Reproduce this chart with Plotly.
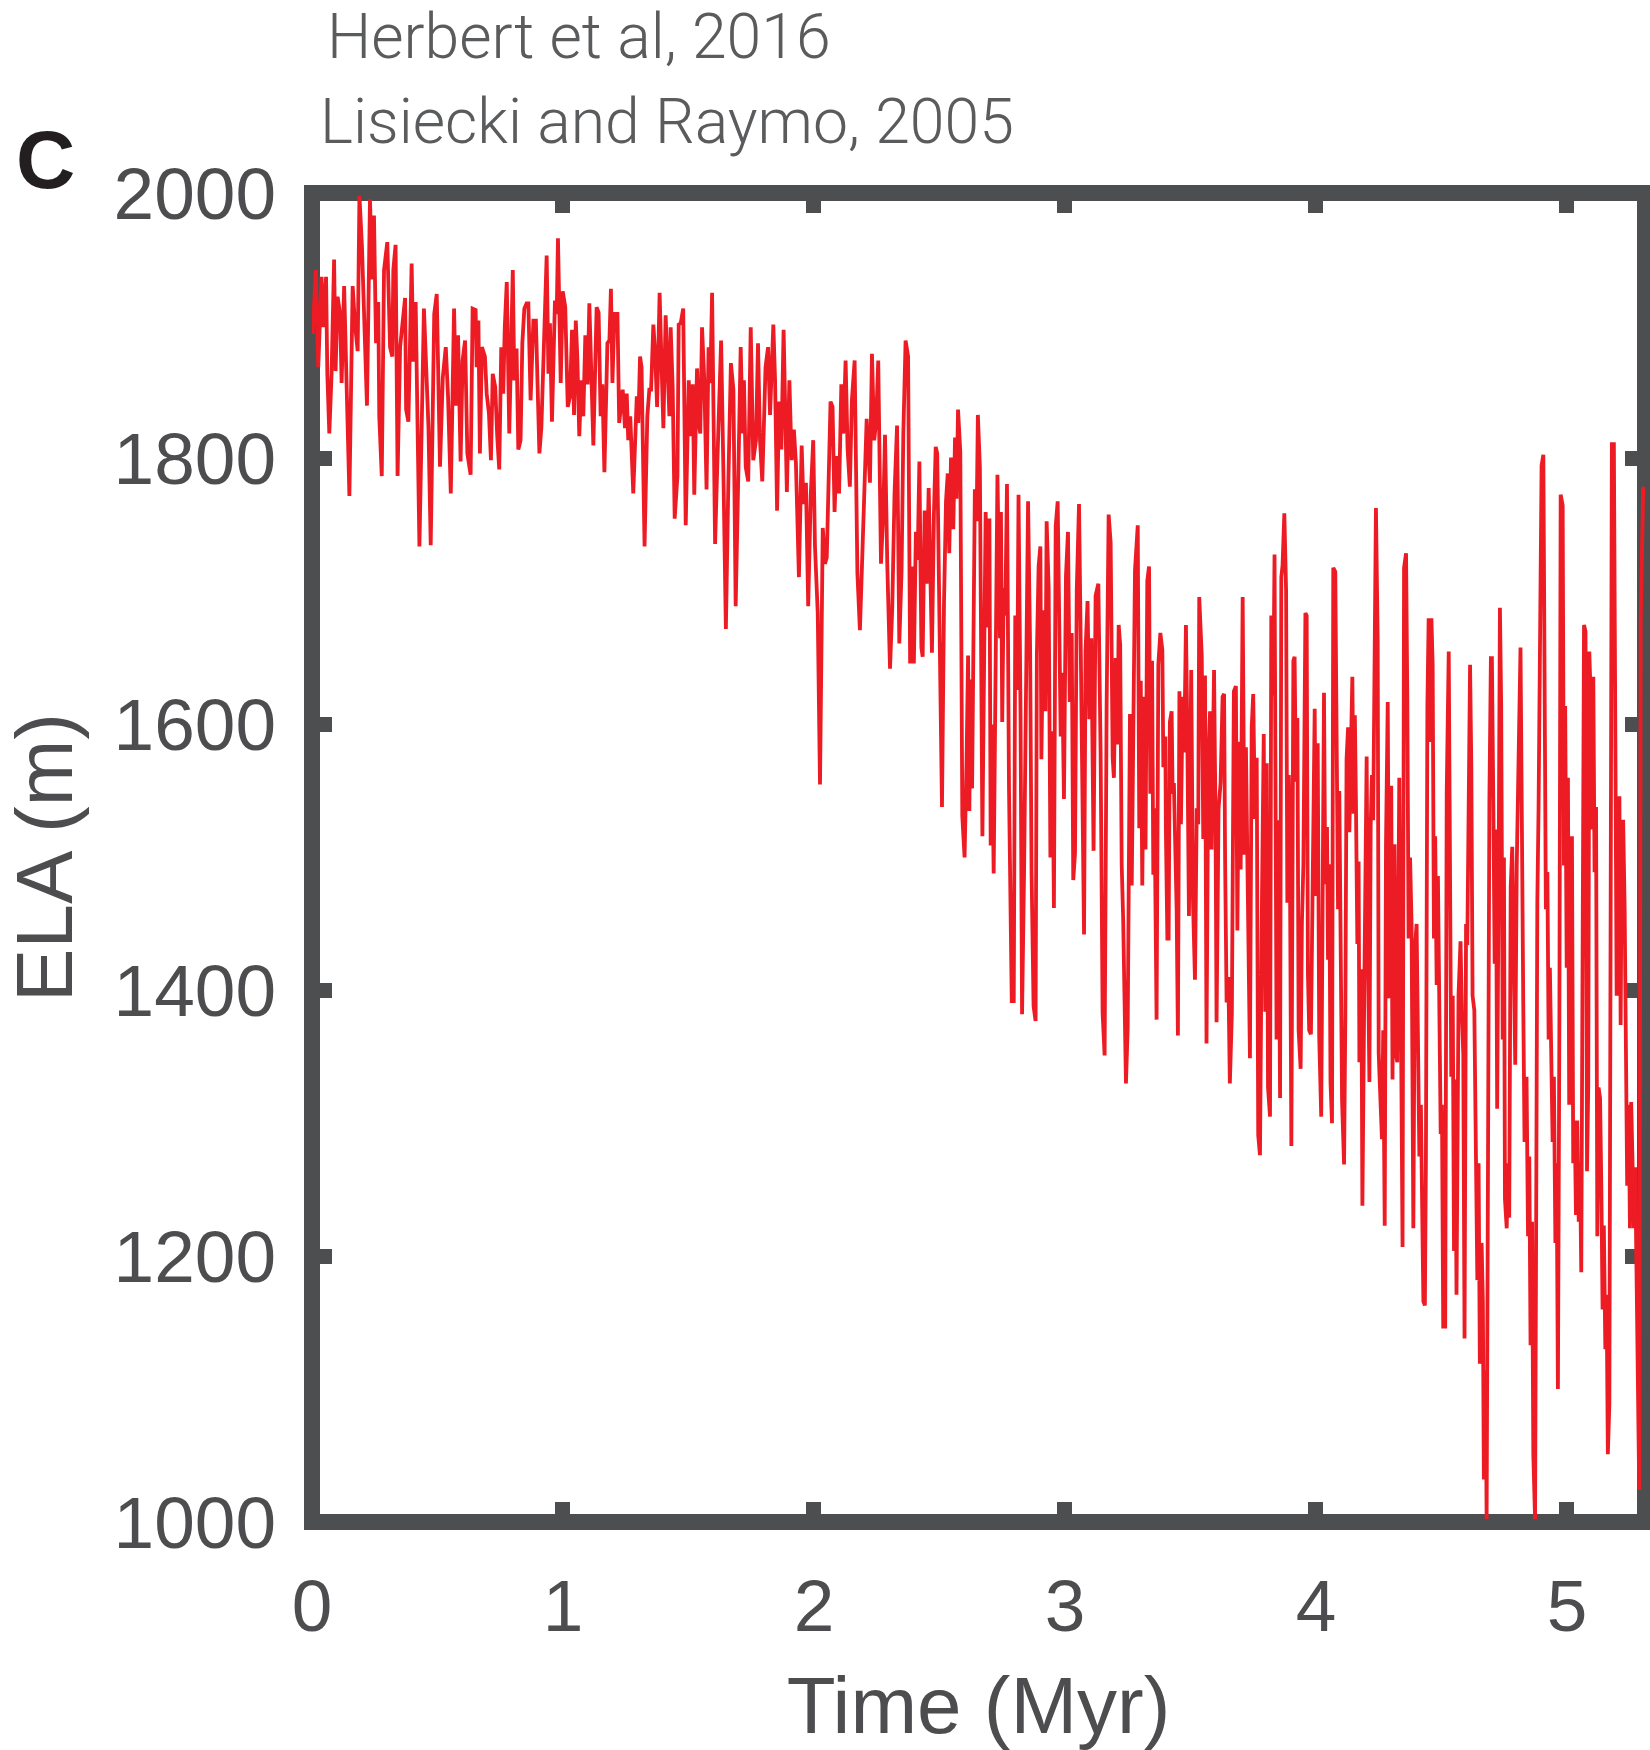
import plotly.graph_objects as go

# ---- data: (time in Myr, ELA in m), segment by segment ----
seg_a = [(0.003,1894),(0.015,1942),(0.025,1869),(0.038,1937),(0.045,1899),(0.056,1937),(0.061,1864),(0.069,1819),
         (0.078,1864),(0.088,1950),(0.094,1866),(0.102,1922),(0.112,1909),(0.118,1857),(0.128,1930),(0.138,1849),
         (0.149,1772),(0.162,1930),(0.171,1902),(0.182,1881),(0.189,1998),(0.199,1960),(0.211,1892),(0.219,1840),
         (0.231,1995),(0.240,1935),(0.247,1983),(0.255,1887),(0.264,1918),(0.268,1832),(0.278,1787),(0.287,1942),
         (0.300,1963),(0.311,1884),(0.320,1877),(0.324,1942),(0.333,1961),(0.341,1787),(0.351,1884),(0.360,1904),
         (0.371,1921),(0.375,1837),(0.384,1828),(0.397,1947),(0.404,1873),(0.413,1918),(0.428,1734),(0.446,1913),
         (0.464,1824),(0.473,1735),(0.487,1909),(0.497,1924),(0.510,1794),(0.521,1861),(0.533,1884),(0.542,1847),
         (0.553,1774),(0.566,1913),(0.574,1840),(0.582,1893),(0.592,1798),(0.600,1874)]
seg_b = [(0.610,1889),(0.619,1804),(0.632,1788),(0.640,1913),(0.652,1912),(0.656,1869),(0.663,1904),(0.669,1804),
         (0.677,1884),(0.689,1877),(0.696,1849),(0.705,1834),(0.713,1799),(0.720,1864),(0.730,1854),(0.738,1817),
         (0.746,1792),(0.754,1884),(0.762,1849),(0.768,1899),(0.776,1933),(0.786,1819),(0.793,1889),(0.800,1942),
         (0.806,1859),(0.815,1883),(0.822,1807),(0.831,1814),(0.838,1887),(0.846,1913),(0.855,1917),(0.862,1917),
         (0.871,1844),(0.882,1904),(0.892,1904),(0.906,1804),(0.914,1824),(0.922,1874),(0.935,1953),(0.942,1864),
         (0.948,1902),(0.956,1828),(0.968,1919),(0.975,1909),(0.980,1966),(0.991,1857),(0.999,1926),(1.009,1914),
         (1.019,1839),(1.028,1847),(1.036,1897),(1.044,1833),(1.051,1904),(1.057,1877),(1.065,1817),(1.073,1859),
         (1.081,1832),(1.089,1893),(1.098,1856),(1.105,1917),(1.113,1854),(1.121,1810),(1.134,1914),(1.142,1910),
         (1.150,1832),(1.157,1856),(1.165,1790),(1.177,1887),(1.185,1889),(1.191,1928),(1.197,1857),(1.205,1909),
         (1.217,1909),(1.224,1827),(1.238,1852),(1.247,1823),(1.254,1849),(1.260,1814)]
seg_c = [(1.268,1832),(1.280,1774),(1.294,1847),(1.300,1827),(1.307,1877),(1.313,1869),(1.325,1734),(1.336,1832),
         (1.344,1852),(1.351,1852),(1.360,1901),(1.367,1880),(1.375,1839),(1.385,1925),(1.393,1869),(1.400,1823),
         (1.409,1908),(1.416,1869),(1.424,1832),(1.429,1899),(1.437,1854),(1.445,1755),(1.456,1787),(1.461,1901),
         (1.469,1902),(1.479,1913),(1.489,1750),(1.501,1859),(1.510,1817),(1.517,1856),(1.523,1773),(1.534,1868),
         (1.541,1827),(1.547,1819),(1.554,1899),(1.563,1859),(1.572,1777),(1.580,1884),(1.587,1857),(1.594,1925),
         (1.606,1736),(1.615,1797),(1.623,1854),(1.630,1889),(1.639,1792),(1.649,1672),(1.659,1784),(1.669,1872),
         (1.679,1852),(1.688,1689),(1.699,1792),(1.708,1884),(1.716,1819),(1.721,1859),(1.728,1794),(1.738,1783),
         (1.748,1899),(1.758,1799),(1.769,1814),(1.777,1887),(1.785,1814),(1.794,1783),(1.807,1869),(1.817,1884),
         (1.825,1833),(1.838,1901),(1.845,1859),(1.853,1761),(1.861,1843),(1.870,1807),(1.879,1897),(1.892,1775),
         (1.902,1859)]
seg_d = [(1.911,1799),(1.920,1822),(1.928,1797),(1.940,1711),(1.951,1810),(1.958,1766),(1.968,1782),(1.977,1689),
         (1.987,1772),(1.997,1814),(2.004,1734),(2.015,1684),(2.024,1555),(2.035,1748),(2.044,1721),(2.051,1726),
         (2.058,1789),(2.066,1843),(2.074,1839),(2.082,1760),(2.090,1802),(2.100,1774),(2.109,1856),(2.117,1819),
         (2.126,1874),(2.134,1807),(2.143,1779),(2.151,1844),(2.162,1874),(2.173,1714),(2.183,1671),(2.197,1764),
         (2.210,1830),(2.223,1782),(2.231,1879),(2.240,1814),(2.248,1829),(2.256,1874),(2.267,1721),(2.276,1759),
         (2.283,1818),(2.292,1721),(2.303,1642),(2.312,1689),(2.321,1774),(2.331,1825),(2.340,1661),(2.349,1716),
         (2.356,1819),(2.365,1889),(2.375,1877),(2.383,1646),(2.390,1719),(2.398,1646),(2.406,1745),(2.413,1724),
         (2.420,1798),(2.428,1658),(2.433,1651),(2.441,1761),(2.449,1706),(2.457,1778),(2.464,1701),(2.470,1654),
         (2.478,1759),(2.485,1809),(2.491,1804),(2.502,1636),(2.510,1538),(2.518,1691),(2.526,1768),(2.533,1789),
         (2.539,1729)]
seg_e = [(2.546,1801),(2.555,1747),(2.562,1816),(2.568,1770),(2.574,1837),(2.583,1805),(2.591,1531),(2.600,1500),
         (2.608,1574),(2.614,1652),(2.619,1535),(2.624,1634),(2.630,1552),(2.635,1703),(2.641,1777),(2.648,1753),
         (2.653,1833),(2.661,1794),(2.671,1516),(2.679,1669),(2.684,1760),(2.692,1673),(2.699,1755),(2.704,1509),
         (2.709,1600),(2.716,1488),(2.724,1673),(2.731,1788),(2.741,1665),(2.745,1760),(2.750,1602),(2.756,1703),
         (2.762,1682),(2.769,1781),(2.777,1552),(2.781,1475),(2.788,1392),(2.796,1392),(2.802,1682),(2.810,1626),
         (2.815,1773),(2.823,1608),(2.829,1382),(2.837,1488),(2.842,1578),(2.847,1725),(2.853,1768),(2.861,1660),
         (2.867,1488),(2.875,1388),(2.883,1377),(2.888,1652),(2.895,1719),(2.902,1734),(2.906,1574),(2.914,1686),
         (2.922,1610),(2.927,1753),(2.935,1703),(2.942,1500),(2.950,1595),(2.956,1462),(2.963,1749),(2.971,1768),
         (2.977,1678),(2.983,1591),(2.989,1639),(2.996,1544),(3.004,1712),(3.012,1745),(3.019,1617),(3.027,1669),
         (3.033,1483),(3.040,1503),(3.047,1701),(3.056,1766),(3.062,1673),(3.069,1574),(3.076,1442),(3.082,1656),
         (3.090,1693),(3.097,1604),(3.105,1665),(3.114,1505),(3.122,1697),(3.133,1706),(3.139,1626)]
seg_f = [(3.142,1579),(3.150,1383),(3.158,1351),(3.166,1614),(3.174,1758),(3.182,1737),(3.190,1575),(3.195,1560),
         (3.202,1650),(3.209,1585),(3.214,1675),(3.220,1660),(3.226,1495),(3.232,1453),(3.238,1383),(3.243,1330),
         (3.250,1372),(3.255,1552),(3.259,1608),(3.266,1479),(3.272,1595),(3.279,1716),(3.290,1750),(3.296,1522),
         (3.302,1633),(3.308,1479),(3.315,1621),(3.321,1506),(3.328,1708),(3.335,1719),(3.340,1548),(3.347,1648),
         (3.352,1487),(3.357,1537),(3.365,1378),(3.372,1645),(3.380,1669),(3.388,1656),(3.392,1568),(3.400,1591),
         (3.402,1522),(3.408,1439),(3.413,1439),(3.418,1602),(3.425,1610),(3.429,1548),(3.434,1556),(3.440,1510),
         (3.445,1460),(3.450,1366),(3.456,1625),(3.462,1525),(3.469,1621),(3.475,1579),(3.482,1675),(3.487,1602),
         (3.494,1456),(3.503,1641),(3.510,1468),(3.518,1408),(3.525,1537),(3.531,1525),(3.535,1696),(3.545,1652),
         (3.551,1514),(3.558,1637),(3.564,1360),(3.571,1572),(3.578,1610),(3.584,1506),(3.594,1641),(3.600,1525),
         (3.604,1376),(3.612,1537),(3.620,1556),(3.628,1621),(3.634,1623),(3.638,1499),(3.644,1391),(3.651,1410),
         (3.657,1330),(3.665,1383),(3.673,1625),(3.681,1629),(3.687,1445),(3.693,1587),(3.700,1491),(3.708,1696),
         (3.715,1502),(3.721,1583),(3.728,1449),(3.737,1349),(3.744,1598),(3.750,1623),(3.757,1529),(3.764,1575),
         (3.770,1291),(3.777,1276)]
seg_g = [(3.785,1471),(3.792,1593),(3.798,1384),(3.804,1571),(3.809,1327),(3.817,1305),(3.822,1682),(3.830,1622),
         (3.835,1728),(3.843,1363),(3.850,1528),(3.857,1319),(3.862,1711),(3.867,1720),(3.874,1759),(3.881,1701),
         (3.886,1466),(3.892,1562),(3.896,1509),(3.902,1283),(3.910,1648),(3.915,1651),(3.920,1557),(3.926,1605),
         (3.931,1370),(3.939,1341),(3.944,1451),(3.950,1495),(3.958,1684),(3.963,1682),(3.968,1413),(3.973,1370),
         (3.980,1367),(3.987,1466),(3.995,1612),(4.000,1471),(4.007,1586),(4.013,1365),(4.021,1305),(4.032,1624),
         (4.037,1480),(4.044,1523),(4.048,1423),(4.053,1495),(4.058,1331),(4.064,1300),(4.069,1718),(4.077,1715),
         (4.082,1605),(4.088,1461),(4.093,1550),(4.098,1403),(4.104,1317),(4.112,1269),(4.117,1379),(4.122,1574),
         (4.128,1598),(4.133,1519),(4.138,1557),(4.145,1636),(4.150,1533),(4.155,1607),(4.159,1547),(4.165,1435),
         (4.170,1497),(4.173,1346),(4.181,1416),(4.185,1238),(4.193,1408),(4.197,1509),(4.202,1576),(4.207,1432),
         (4.213,1331),(4.218,1523),(4.223,1562),(4.228,1528),(4.234,1653),(4.239,1763),(4.246,1663),(4.250,1353),
         (4.255,1327),(4.263,1288),(4.268,1370),(4.274,1223),(4.279,1509),(4.286,1617),(4.292,1394)]
seg_h = [(4.300,1554),(4.305,1333),(4.313,1510),(4.319,1352),(4.324,1346),(4.332,1560),(4.339,1379),(4.345,1207),
         (4.351,1718),(4.359,1729),(4.364,1620),(4.369,1439),(4.375,1500),(4.381,1450),(4.388,1221),(4.394,1431),
         (4.401,1450),(4.406,1368),(4.412,1275),(4.418,1314),(4.422,1251),(4.428,1166),(4.434,1163),(4.438,1270),
         (4.444,1614),(4.449,1680),(4.454,1587),(4.460,1680),(4.465,1645),(4.470,1439),(4.475,1516),(4.481,1404),
         (4.486,1486),(4.491,1410),(4.497,1292),(4.502,1314),(4.507,1147),(4.515,1147),(4.521,1549),(4.529,1655),
         (4.534,1521),(4.539,1335),(4.545,1396),(4.550,1204),(4.555,1333),(4.560,1171),(4.568,1396),(4.576,1437),
         (4.582,1379),(4.587,1352),(4.592,1138),(4.598,1450),(4.603,1434),(4.608,1571),(4.614,1645),(4.619,1568),
         (4.624,1396),(4.631,1385),(4.636,1270),(4.643,1182),(4.648,1270),(4.653,1119),(4.660,1210),(4.665,1166),
         (4.669,1032),(4.676,1114),(4.680,1002),(4.685,1363),(4.691,1543),(4.697,1650),(4.701,1650),(4.707,1535),
         (4.712,1420),(4.717,1521),(4.722,1311),(4.728,1494),(4.733,1688),(4.738,1614),(4.744,1363),(4.749,1500),
         (4.753,1243),(4.760,1221),(4.765,1270),(4.770,1229),(4.776,1478),(4.782,1508),(4.789,1417),(4.794,1344),
         (4.800,1494),(4.805,1546),(4.815,1658)]
seg_i = [(4.826,1390),(4.831,1286),(4.839,1335),(4.845,1215),(4.850,1275),(4.855,1133),(4.861,1226),(4.866,1051),
         (4.873,1002),(4.877,1308),(4.882,1467),(4.887,1538),(4.892,1686),(4.899,1795),(4.906,1803),(4.911,1658),
         (4.916,1461),(4.922,1489),(4.927,1363),(4.932,1417),(4.938,1363),(4.943,1286),(4.948,1335),(4.954,1210),
         (4.959,1270),(4.964,1100),(4.970,1379),(4.975,1773),(4.983,1765),(4.988,1494),(4.993,1614),(4.999,1417),
         (5.004,1560),(5.009,1314),(5.015,1445),(5.020,1516),(5.025,1270),(5.031,1302),(5.036,1231),(5.041,1302),
         (5.047,1226),(5.052,1270),(5.057,1188),(5.062,1396),(5.068,1675),(5.074,1670),(5.080,1264),(5.085,1330),
         (5.089,1655),(5.094,1625),(5.100,1521),(5.105,1636),(5.110,1489),(5.116,1538),(5.121,1215),(5.126,1327),
         (5.132,1319),(5.137,1253),(5.142,1160),(5.147,1223),(5.153,1130),(5.158,1171),(5.163,1051),(5.169,1089),
         (5.174,1571),(5.179,1811),(5.187,1811),(5.193,1516),(5.198,1396),(5.203,1532),(5.209,1546),(5.214,1374),
         (5.219,1527),(5.224,1527),(5.230,1461),(5.235,1357),(5.240,1253),(5.246,1314),(5.251,1221),(5.256,1316),
         (5.262,1270),(5.267,1221),(5.272,1267),(5.278,1188),(5.283,1106),(5.288,1024),(5.294,1680),(5.299,1740),
         (5.304,1779)]

x_tick_values = [0, 1, 2, 3, 4, 5]
y_tick_values = [1000, 1200, 1400, 1600, 1800, 2000]
x_range = [0, 5.311]
y_range = [1000, 2000]
legend_texts = ["Herbert et al, 2016", "Lisiecki and Raymo, 2005"]
panel_label = "C"

segments = [seg_a, seg_b, seg_c, seg_d, seg_e, seg_f, seg_g, seg_h, seg_i]
time_myr = [p[0] for s in segments for p in s]
ela_m = [p[1] for s in segments for p in s]

AX = "#4d4e50"
TXT = "#4d4d4f"
FONT = "Liberation Sans, Arial, Helvetica, sans-serif"
LIGHT_FONT = "Roboto Light, Roboto, Lato Light, Lato, Liberation Sans, sans-serif"

fig = go.Figure()
fig.add_trace(go.Scatter(x=time_myr, y=ela_m, mode="lines",
                         line=dict(color="#ed1c24", width=3.8),
                         showlegend=False, hoverinfo="skip"))

common = dict(ticks="inside", ticklen=20, tickwidth=15, tickcolor=AX,
              showline=False, mirror="ticks", showgrid=False, zeroline=False,
              layer="below traces",
              tickfont=dict(family=FONT, size=73, color=TXT))

fig.update_layout(
    width=1650, height=1750,
    margin=dict(l=312, r=5, t=193, b=228, pad=0),
    paper_bgcolor="white", plot_bgcolor="white",
    showlegend=False,
    xaxis=dict(range=x_range, tickvals=x_tick_values,
               ticktext=[str(v) for v in x_tick_values],
               ticklabelstandoff=35,
               title=dict(text="Time (Myr)", standoff=38,
                          font=dict(family=FONT, size=80, color=TXT)),
               **common),
    yaxis=dict(range=y_range, tickvals=y_tick_values,
               ticktext=[str(v) for v in y_tick_values],
               ticklabelstandoff=35,
               title=dict(text="ELA (m)", standoff=44,
                          font=dict(family=FONT, size=80, color=TXT)),
               **common),
)

fig.add_shape(type="rect", xref="paper", yref="paper", x0=0, y0=0, x1=1, y1=1,
              line=dict(color=AX, width=16), layer="below")

fig.add_annotation(text=legend_texts[0], xref="paper", yref="paper",
                   x=0.00975, y=1.1180, xanchor="left", yanchor="middle", showarrow=False,
                   font=dict(family=LIGHT_FONT, size=62.5, color="#5a5b5d", weight=300))
fig.add_annotation(text=legend_texts[1], xref="paper", yref="paper",
                   x=0.0045, y=1.0540, xanchor="left", yanchor="middle", showarrow=False,
                   font=dict(family=LIGHT_FONT, size=62.5, color="#5a5b5d", weight=300))
fig.add_annotation(text="<b>" + panel_label + "</b>", xref="paper", yref="paper",
                   x=-0.2236, y=1.0250, xanchor="left", yanchor="middle", showarrow=False,
                   font=dict(family=FONT, size=82, color="#231f20"))

fig.write_html("out.html")
